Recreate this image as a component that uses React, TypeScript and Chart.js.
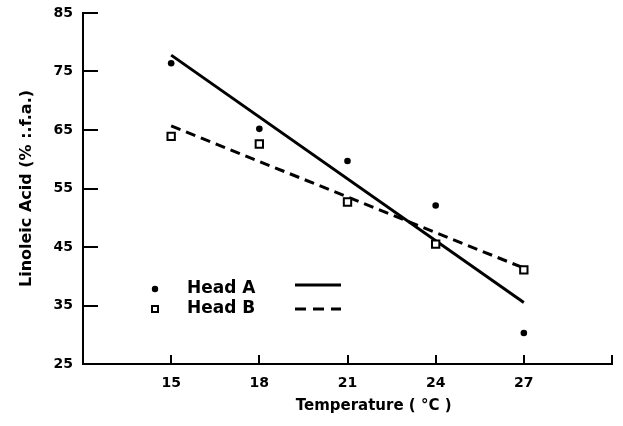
import React, { useEffect, useRef } from "react";
import { Chart, registerables } from "chart.js";

Chart.register(...registerables);

// Data
const TEMPERATURES = [15, 18, 21, 24, 27];
const HEAD_A = [76.4, 65.2, 59.7, 52.1, 30.3];
const HEAD_B = [63.9, 62.6, 52.7, 45.5, 41.1];
// Fitted regression lines (endpoints at 15 and 27 °C)
const FIT_X = [15, 27];
const FIT_A = [77.8, 35.5];
const FIT_B = [65.7, 41.4];

const X_TICKS = [15, 18, 21, 24, 27, 30];
const X_TICK_LABELS = ["15", "18", "21", "24", "27", ""];
const Y_MIN = 25;
const Y_MAX = 85;
const X_MIN = 12;
const X_MAX = 30;

const SERIES_NAMES = ["Head A", "Head B"];
const X_TITLE = "Temperature ( °C )";
const Y_TITLE = "Linoleic Acid (% :.f.a.)";

const FONT = "'DejaVu Sans', sans-serif";

const legendPlugin = {
  id: "customLegend",
  afterDraw(chart: any) {
    const { ctx, chartArea } = chart;
    const baseX = chartArea.left;
    const rows = [
      { y: chartArea.top + 276, filled: true, dash: [] as number[] },
      { y: chartArea.top + 296, filled: false, dash: [11, 7] },
    ];
    ctx.save();
    rows.forEach((r, i) => {
      // marker
      ctx.lineWidth = 2;
      ctx.strokeStyle = "#000";
      ctx.fillStyle = "#000";
      if (r.filled) {
        ctx.beginPath();
        ctx.arc(baseX + 72, r.y, 3.2, 0, Math.PI * 2);
        ctx.fill();
      } else {
        ctx.fillStyle = "#fff";
        ctx.fillRect(baseX + 69, r.y - 3, 6, 6);
        ctx.strokeRect(baseX + 69, r.y - 3, 6, 6);
      }
      // text
      ctx.fillStyle = "#000";
      ctx.font = `bold 17px ${FONT}`;
      ctx.textBaseline = "middle";
      ctx.textAlign = "left";
      ctx.fillText(SERIES_NAMES[i], baseX + 104, r.y);
      // line sample
      ctx.lineWidth = 3;
      ctx.setLineDash(r.dash);
      ctx.beginPath();
      ctx.moveTo(baseX + 212, r.y - (i === 0 ? 4 : 0));
      ctx.lineTo(baseX + 258, r.y - (i === 0 ? 4 : 0));
      ctx.stroke();
      ctx.setLineDash([]);
    });
    ctx.restore();
  },
};

export default function App() {
  const canvasRef = useRef<HTMLCanvasElement | null>(null);

  useEffect(() => {
    if (!canvasRef.current) return;
    const chart = new Chart(canvasRef.current, {
      type: "scatter",
      data: {
        datasets: [
          {
            label: SERIES_NAMES[0],
            data: TEMPERATURES.map((x, i) => ({ x, y: HEAD_A[i] })),
            pointStyle: "circle",
            pointRadius: 3.3,
            backgroundColor: "#000",
            borderColor: "#000",
            borderWidth: 0,
          },
          {
            label: SERIES_NAMES[1],
            data: TEMPERATURES.map((x, i) => ({ x, y: HEAD_B[i] })),
            pointStyle: "rect",
            pointRadius: 5.2,
            backgroundColor: "#fff",
            borderColor: "#000",
            borderWidth: 2,
          },
          {
            label: "Fit A",
            data: FIT_X.map((x, i) => ({ x, y: FIT_A[i] })),
            showLine: true,
            pointRadius: 0,
            borderColor: "#000",
            borderWidth: 3,
          },
          {
            label: "Fit B",
            data: FIT_X.map((x, i) => ({ x, y: FIT_B[i] })),
            showLine: true,
            pointRadius: 0,
            borderColor: "#000",
            borderWidth: 3,
            borderDash: [10, 6],
          },
        ],
      },
      options: {
        animation: false,
        responsive: true,
        maintainAspectRatio: false,
        layout: { padding: { top: 13, right: 11, left: 0, bottom: 0 } },
        plugins: {
          legend: { display: false },
          tooltip: { enabled: false },
        },
        scales: {
          x: {
            type: "linear",
            min: X_MIN,
            max: X_MAX,
            afterBuildTicks: (scale: any) => {
              scale.ticks = X_TICKS.map((v) => ({ value: v }));
            },
            afterFit: (scale: any) => {
              scale.height = 62;
              scale.paddingLeft = 0;
              scale.paddingRight = 0;
            },
            border: { display: true, color: "#000", width: 2 },
            grid: {
              display: true,
              drawOnChartArea: false,
              drawTicks: true,
              tickLength: -9,
              lineWidth: 2,
              color: "#000",
            },
            ticks: {
              color: "#000",
              font: { family: FONT, size: 14, weight: "bold" },
              padding: 20,
              maxRotation: 0,
              autoSkip: false,
              callback: (value: any) => {
                const idx = X_TICKS.indexOf(Number(value));
                return idx >= 0 ? X_TICK_LABELS[idx] : "";
              },
            },
            title: {
              display: true,
              text: "          " + X_TITLE,
              color: "#000",
              font: { family: FONT, size: 15, weight: "bold" },
              padding: { top: 0, bottom: 11 },
            },
          },
          y: {
            type: "linear",
            min: Y_MIN,
            max: Y_MAX,
            afterFit: (scale: any) => {
              scale.width = 83;
              scale.paddingTop = 0;
              scale.paddingBottom = 0;
            },
            border: { display: true, color: "#000", width: 2 },
            grid: {
              display: true,
              drawOnChartArea: false,
              drawTicks: true,
              tickLength: -15,
              lineWidth: 2,
              color: "#000",
            },
            ticks: {
              stepSize: 10,
              color: "#000",
              font: { family: FONT, size: 14, weight: "bold" },
              padding: 25,
            },
            title: {
              display: true,
              text: Y_TITLE,
              color: "#000",
              font: { family: FONT, size: 16, weight: "bold" },
              padding: { top: 17, bottom: 0 },
            },
          },
        },
      },
      plugins: [legendPlugin],
    });
    return () => chart.destroy();
  }, []);

  return (
    <div
      style={{
        position: "absolute",
        left: 0,
        top: 0,
        width: 623,
        height: 426,
        background: "#fff",
      }}
    >
      <canvas ref={canvasRef} />
    </div>
  );
}
